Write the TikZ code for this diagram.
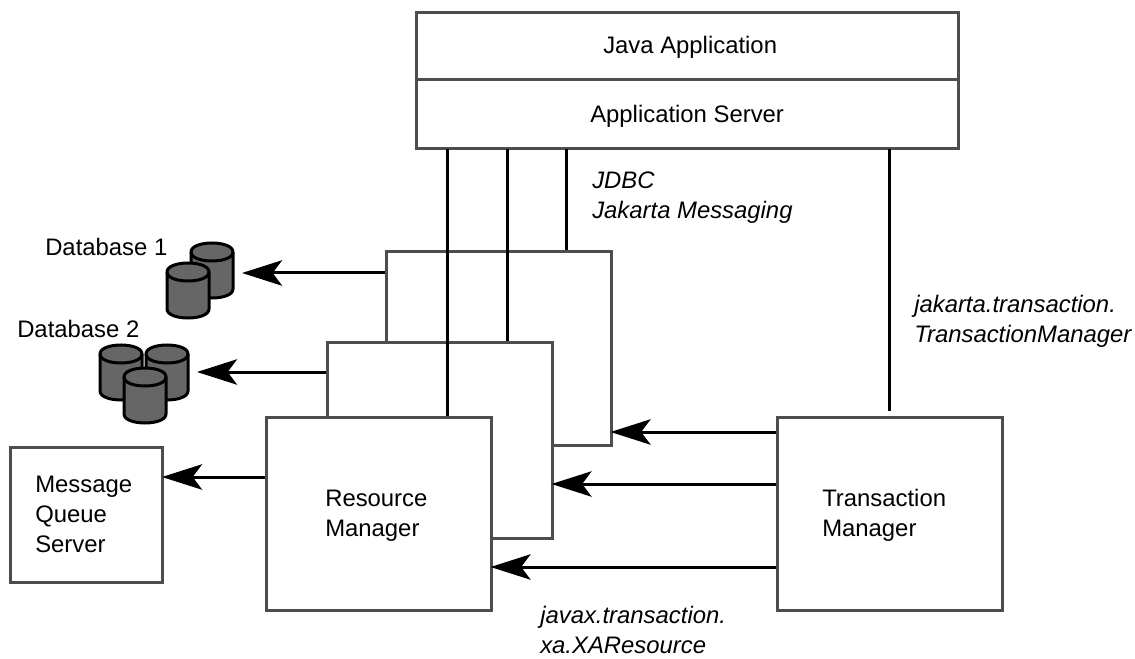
\documentclass[tikz,border=0pt]{standalone}
\usepackage{fontspec}
\setmainfont{Liberation Sans}
\usetikzlibrary{arrows.meta}
\definecolor{boxgray}{HTML}{4D4D4D}
\definecolor{dbgray}{HTML}{666666}
\tikzset{
  box/.style={draw=boxgray,line width=2.25pt,fill=white,inner sep=0pt},
  lbl/.style={font=\fontsize{17.9}{22.5}\selectfont,inner sep=0pt,align=left,anchor=base west},
  api/.style={lbl,font=\fontsize{17.9}{22.5}\selectfont\itshape},
  wire/.style={line width=2.25pt},
  conn/.style={line width=2.25pt,shorten >=-1.5pt,-{Stealth[length=30pt,width=19pt,inset=7pt]}},
  dbline/.style={line width=2.25pt,yscale=-1},
  dbcyl/.pic={
    \draw [dbline,fill=dbgray] (-21,9) -- (-21,46) .. controls (-21,58) and (21,58) .. (21,46) -- (21,9) .. controls (21,-3) and (-21,-3) .. cycle;
    \draw [dbline] (-21,9) .. controls (-21,21) and (21,21) .. (21,9);
  }
}
\begin{document}
\begin{tikzpicture}[x=0.75pt,y=0.75pt,yscale=-1,xscale=1]
  \useasboundingbox (0,0) rectangle (1135,659);

  % boxes
  \node (java) [box,minimum width=406.5pt,minimum height=51pt] at (687,46.5) {};
  \node (appsrv) [box,minimum width=406.5pt,minimum height=51.75pt] at (687,114.5) {};
  \node (rmback) [box,minimum width=168.75pt,minimum height=144.75pt] at (498.5,348.5) {};
  \node (rmmid) [box,minimum width=168.75pt,minimum height=147pt] at (439.5,440) {};
  \node (rm) [box,minimum width=168.75pt,minimum height=144.75pt] at (378.5,513.5) {};
  \node (tm) [box,minimum width=168.75pt,minimum height=144.75pt] at (889.5,513.5) {};
  \node (mq) [box,minimum width=114pt,minimum height=101.25pt] at (86.5,514.5) {};

  % databases
  \pic at (212,243) {dbcyl};
  \pic at (188,263) {dbcyl};
  \pic at (121,345) {dbcyl};
  \pic at (167,345) {dbcyl};
  \pic at (145,368) {dbcyl};

  % free ends
  \coordinate (tapa) at (447,149);
  \coordinate (tapb) at (507,149);
  \coordinate (tapc) at (566,149);
  \coordinate (tapd) at (889,149);
  \coordinate (tmtop) at (889,411);
  \coordinate (dbonetip) at (244,273);
  \coordinate (dbtwotip) at (199,372);
  \coordinate (mqtip) at (0,477);
  \coordinate (tmone) at (0,432);
  \coordinate (tmtwo) at (0,484);
  \coordinate (tmthree) at (0,567);

  % wires down from the server
  \draw [wire] (tapa) -- (tapa |- rm.north);
  \draw [wire] (tapb) -- (tapb |- rmmid.north);
  \draw [wire] (tapc) -- (tapc |- rmback.north);
  \draw [wire] (tapd) -- (tmtop);

  % arrows
  \draw [conn] (rmback.west |- dbonetip) -- (dbonetip);
  \draw [conn] (rmmid.west |- dbtwotip) -- (dbtwotip);
  \draw [conn] (rm.west |- mqtip) -- (mq.east |- mqtip);
  \draw [conn] (tm.west |- tmone) -- (rmback.east |- tmone);
  \draw [conn] (tm.west |- tmtwo) -- (rmmid.east |- tmtwo);
  \draw [conn] (tm.west |- tmthree) -- (rm.east |- tmthree);

  % labels
  \node (javalbl) [lbl] at (603,54) {Java Application};
  \node (appsrvlbl) [lbl] at (590,122.7) {Application Server};
  \node (rmlbl) [lbl] at (325,536.5) {Resource\\Manager};
  \node (tmlbl) [lbl] at (822,536.5) {Transaction\\Manager};
  \node (mqlbl) [lbl] at (35,552) {Message\\Queue\\Server};
  \node (dbone) [lbl] at (45,255.5) {Database 1};
  \node (dbtwo) [lbl] at (17,338) {Database 2};
  \node (jdbc) [api] at (592,219) {JDBC\\Jakarta Messaging};
  \node (jta) [api] at (914,342) {jakarta.transaction.\\TransactionManager};
  \node (xares) [api] at (540,653.5) {javax.transaction.\\xa.XAResource};
\end{tikzpicture}
\end{document}
